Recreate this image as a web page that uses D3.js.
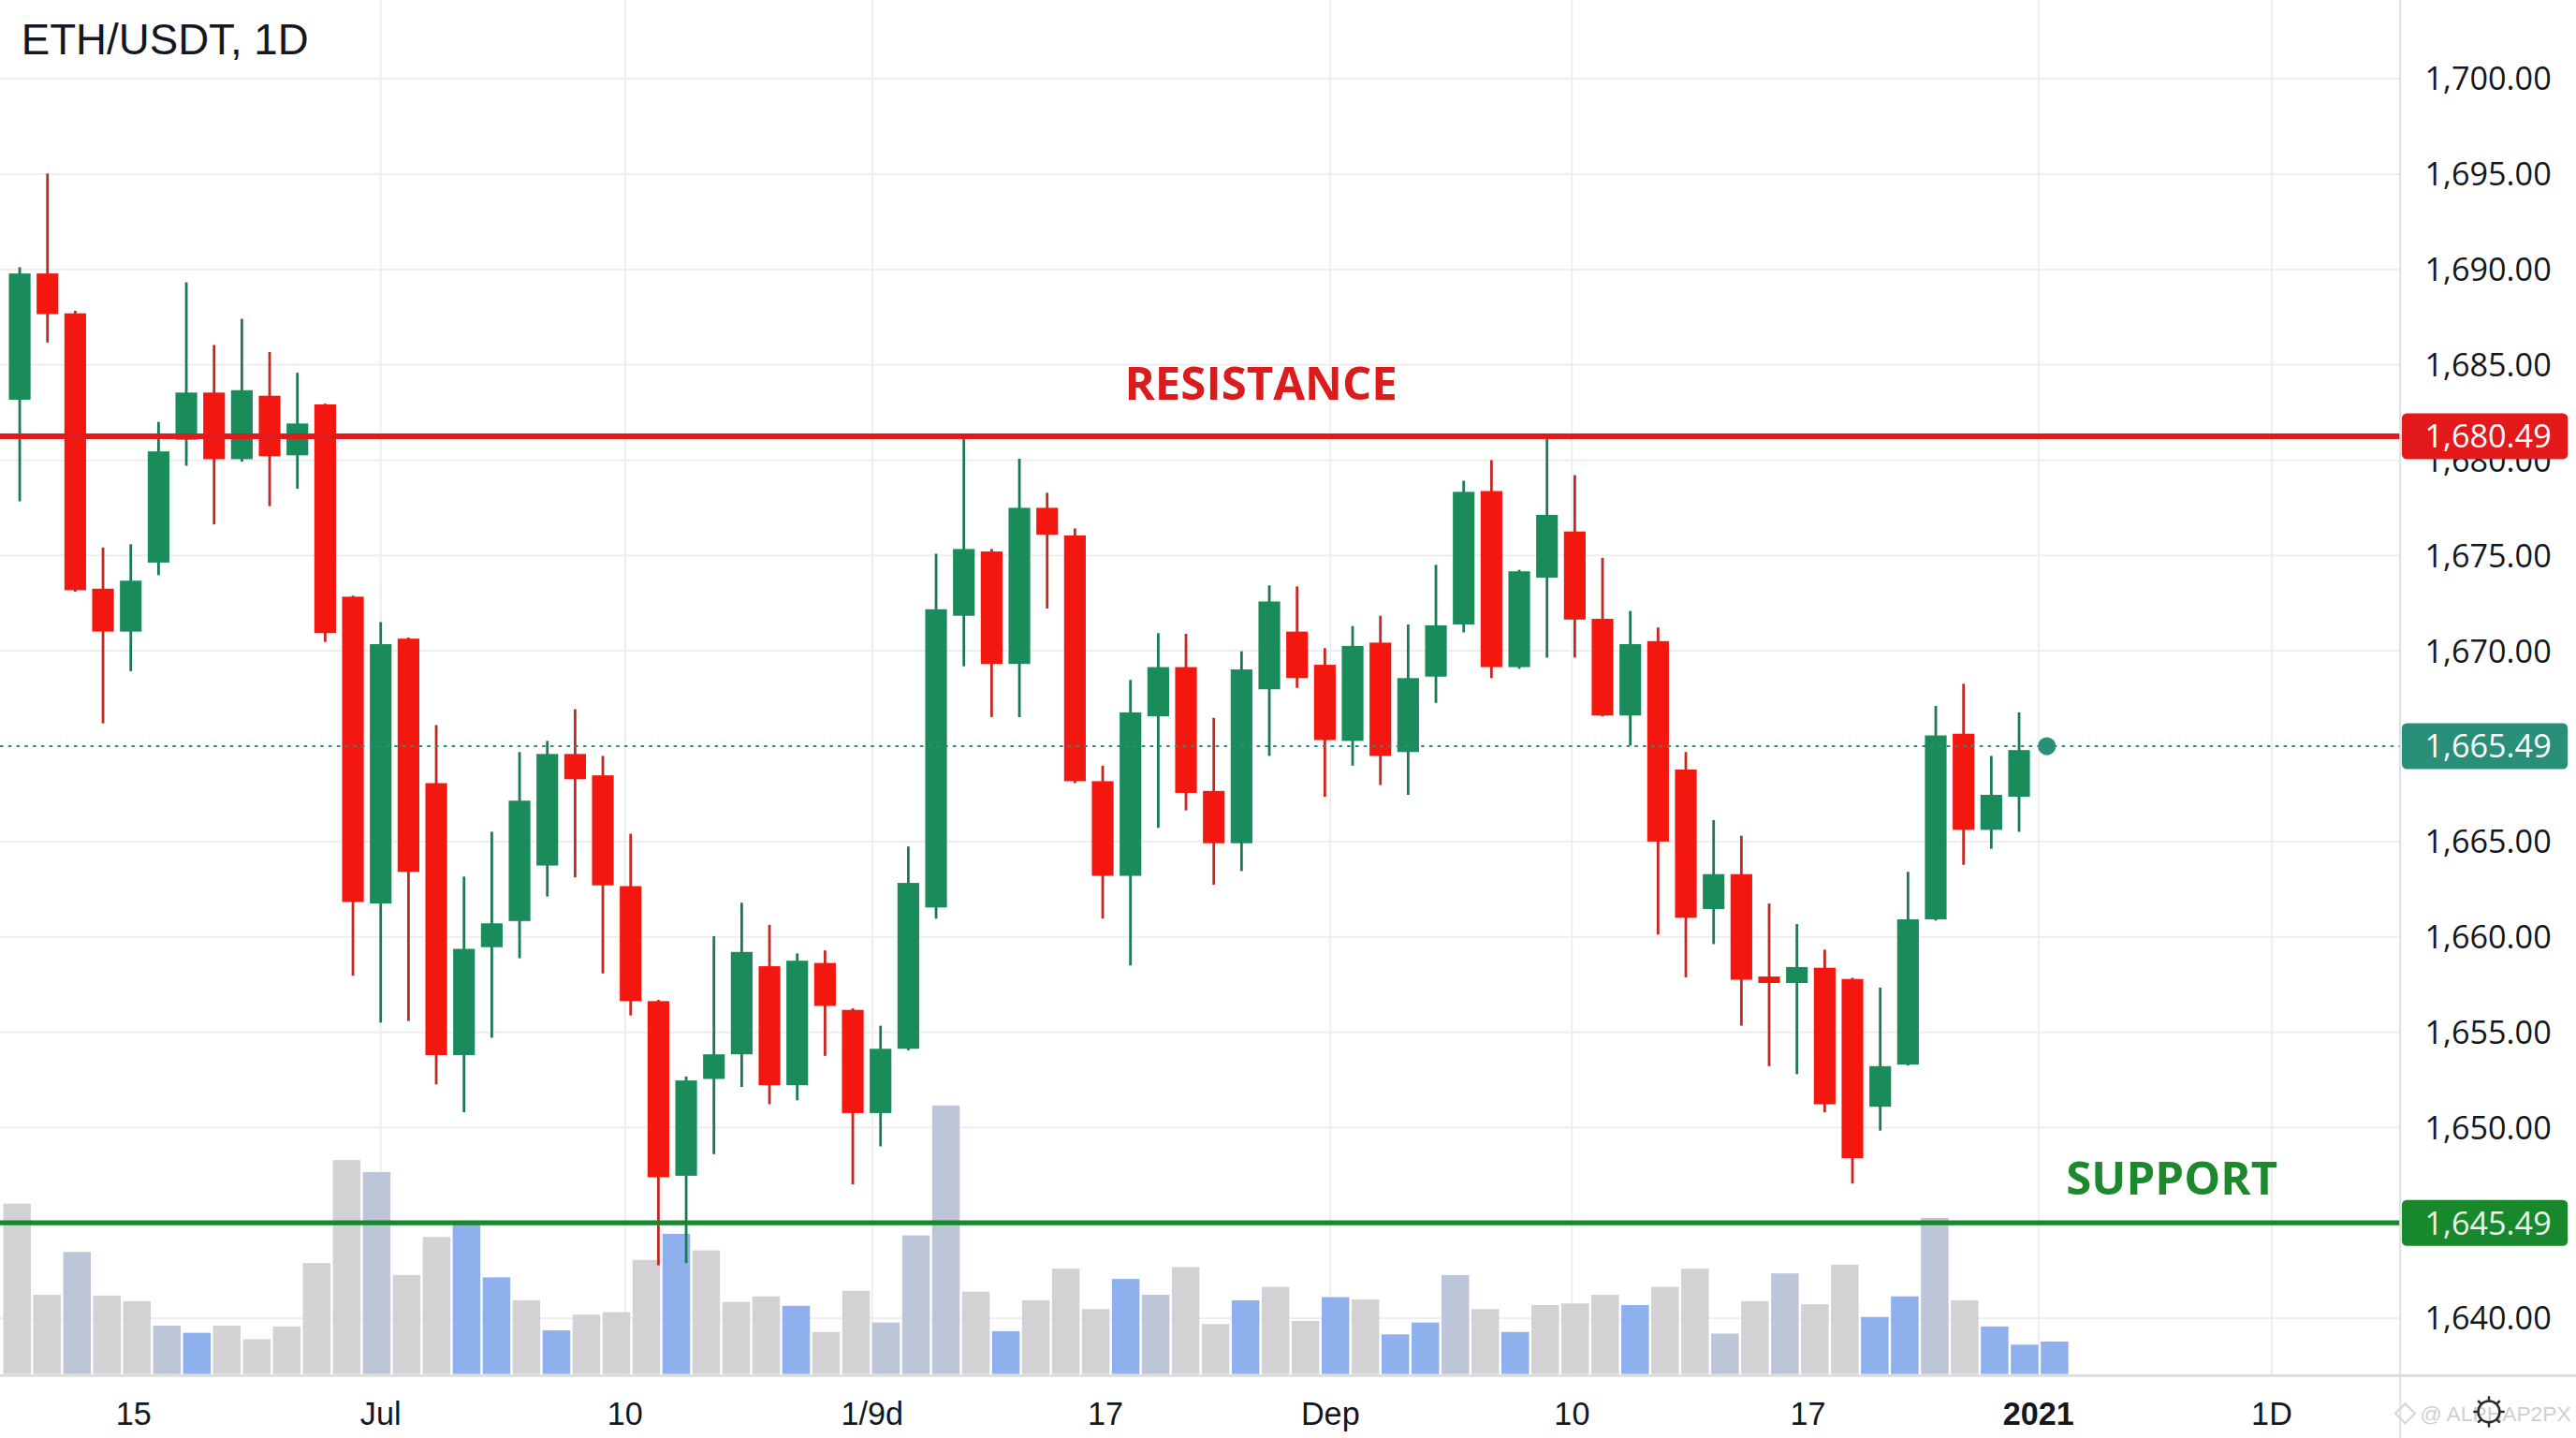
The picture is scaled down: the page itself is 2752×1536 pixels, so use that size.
<!DOCTYPE html>
<html>
<head>
<meta charset="utf-8">
<title>ETH/USDT, 1D</title>
<script src="https://cdn.jsdelivr.net/npm/d3@7"></script>
<style>
    html, body { margin: 0; padding: 0; background: #fff; overflow: hidden; }
    svg { display: block; }
</style>
</head>
<body>
<div id="app"></div>
<script>
const title = "ETH/USDT, 1D";

// daily candles
const opens = [
    1682.80, 1689.79, 1687.70, 1673.26, 1671.01, 1674.63, 1680.42, 1683.25, 1680.02, 1683.05,
    1680.10, 1682.50, 1672.84, 1661.75, 1670.64, 1665.30, 1653.80, 1659.46, 1660.83, 1663.74,
    1665.45, 1665.34, 1662.66, 1656.63, 1647.72, 1652.55, 1653.84, 1658.46, 1652.22, 1658.63,
    1656.17, 1650.76, 1654.13, 1661.54, 1671.84, 1675.21, 1669.38, 1677.50, 1676.05, 1665.31,
    1663.20, 1666.90, 1669.23, 1665.26, 1664.91, 1668.18, 1671.01, 1669.34, 1665.74, 1670.43,
    1665.46, 1668.78, 1671.38, 1678.38, 1669.23, 1673.84, 1676.26, 1671.68, 1666.94, 1670.51,
    1665.37, 1661.46, 1663.29, 1657.92, 1657.58, 1658.38, 1657.79, 1651.09, 1653.30, 1660.92,
    1666.08, 1665.06, 1665.23
];
const highs = [
    1690.12, 1695.03, 1687.83, 1675.42, 1675.59, 1681.40, 1689.33, 1686.04, 1687.41, 1685.67,
    1684.50, 1682.55, 1672.90, 1671.51, 1670.70, 1666.49, 1663.16, 1665.05, 1665.46, 1665.74,
    1667.24, 1665.44, 1665.04, 1656.70, 1652.68, 1660.04, 1661.79, 1660.63, 1659.13, 1659.29,
    1656.25, 1655.34, 1664.74, 1675.09, 1680.46, 1675.34, 1680.03, 1678.29, 1676.42, 1665.39,
    1668.63, 1670.93, 1670.89, 1666.83, 1669.98, 1673.43, 1673.38, 1670.14, 1671.30, 1671.84,
    1671.38, 1674.51, 1678.92, 1680.00, 1674.25, 1680.46, 1679.21, 1674.88, 1672.09, 1671.22,
    1665.46, 1665.11, 1665.03, 1661.75, 1660.67, 1659.33, 1657.85, 1657.34, 1663.41, 1667.39,
    1668.44, 1665.44, 1667.09
];
const lows = [
    1677.84, 1686.17, 1673.10, 1666.57, 1669.04, 1673.97, 1679.71, 1676.63, 1679.92, 1677.59,
    1678.50, 1670.47, 1657.96, 1655.50, 1655.59, 1652.26, 1650.80, 1654.71, 1658.88, 1662.12,
    1663.12, 1658.08, 1655.88, 1643.05, 1643.18, 1648.74, 1652.13, 1651.22, 1651.43, 1653.76,
    1647.31, 1649.11, 1654.05, 1660.96, 1669.27, 1666.87, 1666.87, 1672.22, 1665.30, 1660.96,
    1658.50, 1665.07, 1665.16, 1662.74, 1663.45, 1665.44, 1668.25, 1665.23, 1665.39, 1665.29,
    1665.24, 1667.54, 1670.97, 1668.71, 1669.15, 1669.68, 1669.68, 1666.90, 1665.52, 1660.12,
    1657.88, 1659.62, 1655.34, 1653.22, 1652.80, 1650.80, 1647.35, 1649.86, 1653.25, 1660.85,
    1663.78, 1664.62, 1665.05
];
const closes = [
    1689.79, 1687.66, 1673.18, 1671.01, 1673.68, 1680.18, 1683.25, 1680.02, 1683.40, 1680.08,
    1681.30, 1670.93, 1661.83, 1670.35, 1663.41, 1653.80, 1659.37, 1660.71, 1665.21, 1665.45,
    1665.32, 1662.70, 1656.63, 1647.65, 1652.47, 1653.84, 1659.21, 1652.22, 1658.75, 1656.38,
    1650.76, 1654.13, 1662.83, 1672.18, 1675.34, 1669.38, 1677.50, 1676.09, 1665.31, 1663.20,
    1667.09, 1669.23, 1665.25, 1664.91, 1669.12, 1672.59, 1668.71, 1665.78, 1670.26, 1665.44,
    1668.71, 1671.34, 1678.34, 1669.23, 1674.17, 1677.13, 1671.64, 1666.94, 1670.35, 1665.00,
    1661.00, 1663.29, 1657.75, 1657.58, 1658.42, 1651.22, 1648.55, 1653.22, 1660.92, 1666.00,
    1665.06, 1665.24, 1665.47
];

// volume pane (own bar slots, as in the picture)
const volumes = [
    215, 100, 154, 99, 92, 61, 52, 61, 44, 60,
    140, 270, 255, 125, 173, 190, 122, 93, 55, 75,
    78, 144, 177, 156, 91, 98, 86, 53, 105, 65,
    175, 339, 104, 54, 93, 133, 82, 120, 100, 135,
    63, 93, 110, 67, 97, 94, 50, 65, 125, 82,
    53, 87, 89, 100, 87, 110, 133, 51, 92, 127,
    88, 138, 72, 98, 197, 93, 60, 37, 41
];
const volumeTones = [
    "g", "g", "s", "g", "g", "s", "b", "g", "g", "g",
    "g", "g", "s", "g", "g", "b", "b", "g", "b", "g",
    "g", "g", "b", "g", "g", "g", "b", "g", "g", "s",
    "s", "s", "g", "b", "g", "g", "g", "b", "s", "g",
    "g", "b", "g", "g", "b", "g", "b", "b", "s", "g",
    "b", "g", "g", "g", "b", "g", "g", "s", "g", "s",
    "g", "g", "b", "b", "s", "g", "b", "b", "b"
];

// price axis: labelled ticks, tags share the slots
const priceStops = [1700, 1695, 1690, 1685, 1680.49, 1680, 1675, 1670, 1665.49, 1665, 1660, 1655, 1650, 1645.49, 1640];
const priceSlots = [0, 1, 2, 3, 3.75, 4, 5, 6, 7, 8, 9, 10, 11, 12, 13];
const priceTicks = [1700, 1695, 1690, 1685, 1680, 1675, 1670, 1665, 1660, 1655, 1650, 1640];

// time axis labels, placed by candle index
const timeLabels = ["15", "Jul", "10", "1/9d", "17", "Dep", "10", "17", "2021", "1D"];
const timeIndex = [4.1, 13, 21.8, 30.7, 39.1, 47.2, 55.9, 64.4, 72.7, 81.1];
const timeGrid = [false, true, true, true, false, true, true, false, true, true];

const resistance = 1680.49;
const support = 1645.49;
const lastPrice = 1665.49;

const colors = {
    up: "#1a8c5b",
    upWick: "#1c7a52",
    down: "#f3170f",
    downWick: "#c42822",
    g: "#d3d1d4",
    s: "#bdc5d8",
    b: "#8eb0ec",
    grid: "#ececec",
    text: "#131722",
    res: "#e3191b",
    sup: "#17882b",
    last: "#2a8f79",
};

// drawing is done in a 1568x876 frame and stretched to the window
const W = 1568;
const H = 876;
const plotRight = 1461;
const plotBottom = 838;

const svg = d3
    .select("#app")
    .append("svg")
    .attr("width", 2752)
    .attr("height", 1536)
    .attr("viewBox", `0 0 ${W} ${H}`)
    .attr("preserveAspectRatio", "none")
    .style("font-family", "'Liberation Sans', Arial, sans-serif");

svg.append("rect").attr("width", W).attr("height", H).attr("fill", "#fff");

const y = d3
    .scaleLinear()
    .domain(priceStops)
    .range(priceSlots.map((s) => 48 + s * 58.08));

const x = d3
    .scaleLinear()
    .domain([0, opens.length - 1])
    .range([12, 1229]);

const xv = d3
    .scaleBand()
    .domain(d3.range(volumes.length))
    .range([2, 1259])
    .paddingInner(0.08);

const yv = d3.scaleLinear().domain([0, 400]).range([837, 644]);

// grid
svg.append("g")
    .selectAll("line")
    .data(priceTicks)
    .enter()
    .append("line")
    .attr("x1", 0)
    .attr("x2", plotRight)
    .attr("y1", (d) => y(d))
    .attr("y2", (d) => y(d))
    .attr("stroke", colors.grid)
    .attr("stroke-width", 1);

svg.append("g")
    .selectAll("line")
    .data(timeIndex.filter((d, i) => timeGrid[i]))
    .enter()
    .append("line")
    .attr("x1", (d) => x(d))
    .attr("x2", (d) => x(d))
    .attr("y1", 0)
    .attr("y2", plotBottom)
    .attr("stroke", colors.grid)
    .attr("stroke-width", 1);

// volume
svg.append("g")
    .selectAll("rect")
    .data(volumes)
    .enter()
    .append("rect")
    .attr("x", (d, i) => xv(i))
    .attr("width", xv.bandwidth())
    .attr("y", (d) => yv(d))
    .attr("height", (d) => yv(0) - yv(d))
    .attr("fill", (d, i) => colors[volumeTones[i]]);

// candles
const candles = svg
    .append("g")
    .selectAll("g")
    .data(d3.range(opens.length))
    .enter()
    .append("g");

const isUp = (i) => closes[i] >= opens[i];
const bodyW = 13.2;

candles
    .append("line")
    .attr("x1", (i) => x(i))
    .attr("x2", (i) => x(i))
    .attr("y1", (i) => y(highs[i]))
    .attr("y2", (i) => y(lows[i]))
    .attr("stroke", (i) => (isUp(i) ? colors.upWick : colors.downWick))
    .attr("stroke-width", 1.6);

candles
    .append("rect")
    .attr("x", (i) => x(i) - bodyW / 2)
    .attr("width", bodyW)
    .attr("y", (i) => y(Math.max(opens[i], closes[i])))
    .attr("height", (i) => Math.max(2, Math.abs(y(opens[i]) - y(closes[i]))))
    .attr("fill", (i) => (isUp(i) ? colors.up : colors.down));

// last price line + marker
svg.append("line")
    .attr("x1", 0)
    .attr("x2", plotRight)
    .attr("y1", y(lastPrice))
    .attr("y2", y(lastPrice))
    .attr("stroke", colors.last)
    .attr("stroke-width", 1.2)
    .attr("stroke-dasharray", "2,3");

svg.append("circle")
    .attr("cx", x(opens.length))
    .attr("cy", y(lastPrice))
    .attr("r", 5.5)
    .attr("fill", colors.last);

// support / resistance
svg.append("line")
    .attr("x1", 0)
    .attr("x2", plotRight)
    .attr("y1", y(resistance))
    .attr("y2", y(resistance))
    .attr("stroke", colors.res)
    .attr("stroke-width", 3.4);

svg.append("line")
    .attr("x1", 0)
    .attr("x2", plotRight)
    .attr("y1", y(support))
    .attr("y2", y(support))
    .attr("stroke", colors.sup)
    .attr("stroke-width", 3);

svg.append("text")
    .attr("x", x(44.7))
    .attr("y", y(resistance) - 22)
    .attr("text-anchor", "middle")
    .attr("font-family", "'Open Sans', sans-serif")
    .attr("font-weight", 700)
    .attr("font-size", 28)
    .attr("fill", "#dc1c1c")
    .text("RESISTANCE");

svg.append("text")
    .attr("x", x(77.5))
    .attr("y", y(support) - 17)
    .attr("text-anchor", "middle")
    .attr("font-family", "'Open Sans', sans-serif")
    .attr("font-weight", 700)
    .attr("font-size", 28)
    .attr("fill", "#1c8a2c")
    .text("SUPPORT");

// frame
svg.append("line")
    .attr("x1", plotRight)
    .attr("x2", plotRight)
    .attr("y1", 0)
    .attr("y2", H)
    .attr("stroke", "#e0e1e4")
    .attr("stroke-width", 1.2);

svg.append("line")
    .attr("x1", 0)
    .attr("x2", W)
    .attr("y1", plotBottom)
    .attr("y2", plotBottom)
    .attr("stroke", "#dcdcdc")
    .attr("stroke-width", 1.6);

// price axis labels
svg.append("g")
    .selectAll("text")
    .data(priceTicks)
    .enter()
    .append("text")
    .attr("x", 1476)
    .attr("y", (d) => y(d))
    .attr("dy", "0.36em")
    .attr("font-family", "'Open Sans', sans-serif")
    .attr("font-size", 19.5)
    .attr("fill", colors.text)
    .text((d) => d3.format(",.2f")(d));

// price tags
const tags = [
    { v: resistance, c: colors.res, t: "#ffffff" },
    { v: lastPrice, c: colors.last, t: "#ffffff" },
    { v: support, c: colors.sup, t: "#e8f7e8" },
];

const tag = svg.append("g").selectAll("g").data(tags).enter().append("g");

tag.append("rect")
    .attr("x", plotRight + 1)
    .attr("y", (d) => y(d.v) - 14)
    .attr("width", 101)
    .attr("height", 28)
    .attr("rx", 3)
    .attr("fill", (d) => d.c);

tag.append("text")
    .attr("x", 1476)
    .attr("y", (d) => y(d.v))
    .attr("dy", "0.36em")
    .attr("font-family", "'Open Sans', sans-serif")
    .attr("font-size", 19.5)
    .attr("fill", (d) => d.t)
    .text((d) => d3.format(",.2f")(d.v));

// time axis labels
svg.append("g")
    .selectAll("text")
    .data(timeLabels)
    .enter()
    .append("text")
    .attr("x", (d, i) => x(timeIndex[i]))
    .attr("y", 868)
    .attr("text-anchor", "middle")
    .attr("font-size", 19.5)
    .attr("font-weight", (d) => (d === "2021" ? 700 : 400))
    .attr("fill", colors.text)
    .text((d) => d);

// title
svg.append("text")
    .attr("x", 13)
    .attr("y", 33)
    .attr("font-size", 26)
    .attr("fill", colors.text)
    .text(title);

// watermark and settings icon
svg.append("path")
    .attr("d", "M1464,855 l6,6 l-6,6 l-6,-6 z")
    .attr("fill", "none")
    .attr("stroke", "#d6d6d6")
    .attr("stroke-width", 1.2);

svg.append("text")
    .attr("x", 1565)
    .attr("y", 866)
    .attr("text-anchor", "end")
    .attr("font-size", 13)
    .attr("fill", "#cfcfcf")
    .text("@ ALPHAP2PX");

const gear = svg.append("g").attr("transform", "translate(1515,860)");
gear.append("circle").attr("r", 6.5).attr("fill", "none").attr("stroke", "#2a2a2a").attr("stroke-width", 1.4);
gear.selectAll("line")
    .data(d3.range(8))
    .enter()
    .append("line")
    .attr("x1", (d) => 6.5 * Math.cos((d * Math.PI) / 4))
    .attr("y1", (d) => 6.5 * Math.sin((d * Math.PI) / 4))
    .attr("x2", (d) => 9.5 * Math.cos((d * Math.PI) / 4))
    .attr("y2", (d) => 9.5 * Math.sin((d * Math.PI) / 4))
    .attr("stroke", "#2a2a2a")
    .attr("stroke-width", 1.4);
</script>
</body>
</html>
